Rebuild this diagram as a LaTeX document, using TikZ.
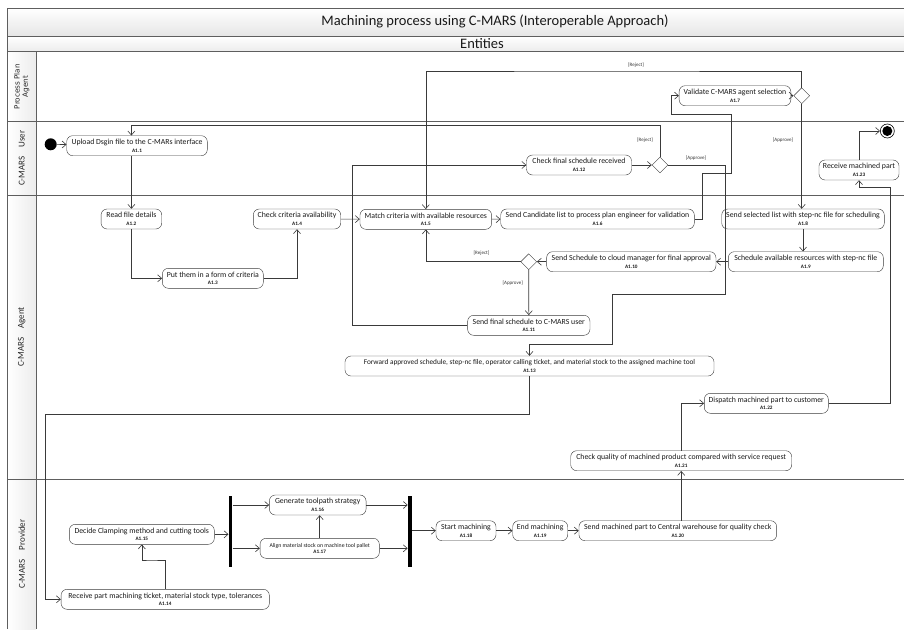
\documentclass[tikz,border=0pt]{standalone}
\usepackage{fontspec}
\setmainfont{Carlito}
\newfontfamily\lanefont{DejaVu Sans}
\usetikzlibrary{arrows.meta,positioning,shapes.geometric}
\definecolor{linecol}{HTML}{3A3A3A}
\definecolor{lanecol}{HTML}{5E5E5E}
\newcommand{\actid}[1]{{\fontsize{5.2}{5.4}\selectfont\bfseries #1}}

\begin{document}
\begin{tikzpicture}[
    x=1pt,y=-1pt,
    act/.style={draw=linecol,fill=white,rounded corners=6pt,minimum height=20pt,inner xsep=2pt,inner ysep=0.5pt,
      align=center,text=black!90,font=\fontsize{7.8}{7.8}\selectfont},
    decide/.style={draw=linecol,fill=white,diamond,minimum size=16pt,inner sep=0pt},
    bar/.style={fill=black,minimum width=3.6pt,minimum height=71pt,inner sep=0pt},
    startdot/.style={circle,fill=black,minimum size=12pt,inner sep=0pt},
    enddot/.style={circle,draw=black,fill=white,line width=0.6pt,minimum size=14pt,inner sep=0pt,
      path picture={\fill[black] (path picture bounding box.center) circle (5pt);}},
    guard/.style={font=\fontsize{5}{5.5}\selectfont,text=black!80},
    lanetext/.style={rotate=90,align=center,text=black!85,font=\fontsize{9}{9.5}\selectfont},
    lane/.style={draw=lanecol,line width=1pt},
    flow/.style={->,draw=linecol,line width=0.6pt},
    >={Straight Barb[length=4pt,width=7pt]}]
  \useasboundingbox (0,0) rectangle (904,629);

  % pool and lanes
  \shade[top color=white,bottom color=gray!20] (7.3,8.3) rectangle (904,36);
  \shade[top color=white,bottom color=gray!15] (7.3,36) rectangle (904,51.7);
  \shade[left color=white,right color=gray!15] (7.3,51.7) rectangle (36,629);
  \draw[lane] (904,8.3) -- (7.3,8.3) -- (7.3,629);
  \draw[lane] (36,51.7) -- (36,629);
  \foreach \ly in {36,51.7,121.7,195,479}
    \draw[lane] (7.3,\ly) -- (904,\ly);
  \node[font=\fontsize{14.5}{16}\selectfont,text=black!90] (title) at (495,21.5) {Machining process using C-MARS (Interoperable Approach)};
  \node[font=\fontsize{14.5}{16}\selectfont,text=black!90] (entities) at (482,43.5) {Entities};
  \node[lanetext,font=\lanefont\fontsize{7.2}{8.2}\selectfont] (laneplan) at (21.7,86.7) {Process Plan\\Agent};
  \node[lanetext] (laneuser) at (21.7,158.3) {C-MARS\quad User};
  \node[lanetext] (laneagent) at (21.7,337) {C-MARS\quad Agent};
  \node[lanetext] (laneprov) at (21.7,554) {C-MARS\quad Provider};

  % actions
  \node[startdot] (start) at (50.7,144.3) {};
  \node[act,minimum width=140.6pt] (a11) at (137,145.7) {Upload Dsgin file to the C-MARs interface\\\actid{A1.1}};
  \node[act,minimum width=60.7pt] (a12) at (131.4,219) {Read file details\\\actid{A1.2}};
  \node[act,minimum width=101pt] (a13) at (212.8,278.3) {Put them in a form of criteria\\\actid{A1.3}};
  \node[act,minimum width=87.4pt] (a14) at (297,219) {Check criteria availability\\\actid{A1.4}};
  \node[act,minimum width=131.7pt] (a15) at (425.8,219.3) {Match criteria with available resources\\\actid{A1.5}};
  \node[act,minimum width=193.6pt] (a16) at (597.5,219) {Send Candidate list to process plan engineer for validation\\\actid{A1.6}};
  \node[act,minimum width=111.7pt] (a17) at (735,95.7) {Validate C-MARS agent selection\\\actid{A1.7}};
  \node[decide] (d3) at (801.7,95.7) {};
  \node[act,minimum width=162.6pt] (a18) at (803,219) {Send selected list with step-nc file for scheduling\\\actid{A1.8}};
  \node[act,minimum width=155pt] (a19) at (805.8,261.7) {Schedule available resources with step-nc file\\\actid{A1.9}};
  \node[act,minimum width=169.3pt] (a110) at (631.3,261.7) {Send Schedule to cloud manager for final approval\\\actid{A1.10}};
  \node[decide] (d1) at (528.7,261.7) {};
  \node[act,minimum width=122.3pt] (a111) at (528.8,325.3) {Send final schedule to C-MARS user\\\actid{A1.11}};
  \node[act,minimum width=105pt] (a112) at (579,165) {Check final schedule received\\\actid{A1.12}};
  \node[decide] (d2) at (660,165) {};
  \node[act,minimum width=80pt] (a123) at (859,170) {Receive machined part\\\actid{A1.23}};
  \node[enddot] (end) at (887.3,131) {};
  \node[act,minimum width=369pt,font=\fontsize{7.3}{7.8}\selectfont] (a113) at (529.5,366) {Forward approved schedule, step-nc file, operator calling ticket, and material stock to the assigned machine tool\\\actid{A1.13}};
  \node[act,minimum width=124pt] (a122) at (766.3,403.3) {Dispatch machined part to customer\\\actid{A1.22}};
  \node[act,minimum width=221pt] (a121) at (681.2,460.7) {Check quality of machined product compared with service request\\\actid{A1.21}};
  \node[act,minimum width=145pt] (a115) at (141.8,534.3) {Decide Clamping method and cutting tools\\\actid{A1.15}};
  \node[bar] (fork) at (230.5,531.3) {};
  \node[act,minimum width=96.7pt] (a116) at (317.7,505) {Generate toolpath strategy\\\actid{A1.16}};
  \node[act,minimum width=119.3pt,font=\fontsize{5.8}{6.6}\selectfont] (a117) at (319.7,548.3) {Align material stock on machine tool pallet\\\actid{A1.17}};
  \node[bar] (join) at (409.7,531.3) {};
  \node[act,minimum width=208.3pt] (a114) at (165.2,599.3) {Receive part machining ticket, material stock type, tolerances\\\actid{A1.14}};
  \node[act,minimum width=60pt] (a118) at (466,530.7) {Start machining\\\actid{A1.18}};
  \node[act,minimum width=55pt] (a119) at (540.2,530.7) {End machining\\\actid{A1.19}};
  \node[act,minimum width=197.7pt] (a120) at (677.8,530.7) {Send machined part to Central warehouse for quality check\\\actid{A1.20}};

  % bends
  \coordinate (c1) at (702.3,173.3);
  \coordinate (c2) at (731,114.3);
  \coordinate (c3) at (671,114.3);
  \coordinate (c4) at (600,71);
  \coordinate (c5) at (352.7,250);
  \coordinate (c6) at (400,125.7);
  \coordinate (c7) at (725,294);
  \coordinate (c8) at (612.7,344);
  \coordinate (c9) at (45.7,414);
  \coordinate (c10) at (150,560);
  \coordinate (c11) at (890.7,187.3);

  % flows
  \draw[flow] (start) -- (a11);
  \draw[flow] (a12.north |- a11.south) -- (a12.north);
  \draw[flow] (a12.south) |- (a13.west);
  \draw[flow] (a13.east) -| (a14.south);
  \draw[flow] (a14) -- (a15);
  \draw[flow] (a15) -- (a16);
  \draw[flow] (a16.east) -| (c1) -| (c2) -- (c3) |- (a17.west);
  \draw[flow] (a17) -- (d3);
  \draw[flow] (d3.north) |- (c4) -| (a15.north);
  \draw[flow] (d3.south) -- (d3.south |- a18.north);
  \draw[flow] (a18.south) -- (a18.south |- a19.north);
  \draw[flow] (a19) -- (a110);
  \draw[flow] (a110) -- (d1);
  \draw[flow] (d1.west) -| (a15.south);
  \draw[flow] (d1.south) -- (a111.north);
  \draw[flow] (a111.west) -| (c5) |- (a112.west);
  \draw[flow] (a112) -- (d2);
  \draw[flow] (d2.north) |- (c6) -| (a12.north |- a11.north);
  \draw[flow] (d2.east) -| (c7) -| (c8) -| (a113.north);
  \draw[flow] (a113.south) |- (c9) |- (a114.west);
  \draw[flow] (a114.north) |- (c10) -| (a115.south);
  \draw[flow] (a115.east) -- (a115.east -| fork.west);
  \draw[flow] (fork.east |- a116) -- (a116.west);
  \draw[flow] (fork.east |- a117) -- (a117.west);
  \draw[flow] (a117.north) -- (a117.north |- a116.south);
  \draw[flow] (a116.east) -- (a116.east -| join.west);
  \draw[flow] (a117.east) -- (a117.east -| join.west);
  \draw[flow] (join.east |- a118) -- (a118.west);
  \draw[flow] (a118) -- (a119);
  \draw[flow] (a119) -- (a120);
  \draw[flow] (a121.south |- a120.north) -- (a121.south);
  \draw[flow] (a121.north) |- (a122.west);
  \draw[flow] (a122.east) -| (c11) -| (a123.south);
  \draw[flow] (a123.north) |- (end.west);

  % guards
  \node[guard] (g3r) at (636,65) {[Reject]};
  \node[guard] (g3a) at (783,140) {[Approve]};
  \node[guard] (g2r) at (645,140) {[Reject]};
  \node[guard] (g2a) at (696,158) {[Approve]};
  \node[guard] (g1r) at (481.5,253.3) {[Reject]};
  \node[guard] (g1a) at (512.7,283.3) {[Approve]};
\end{tikzpicture}
\end{document}
